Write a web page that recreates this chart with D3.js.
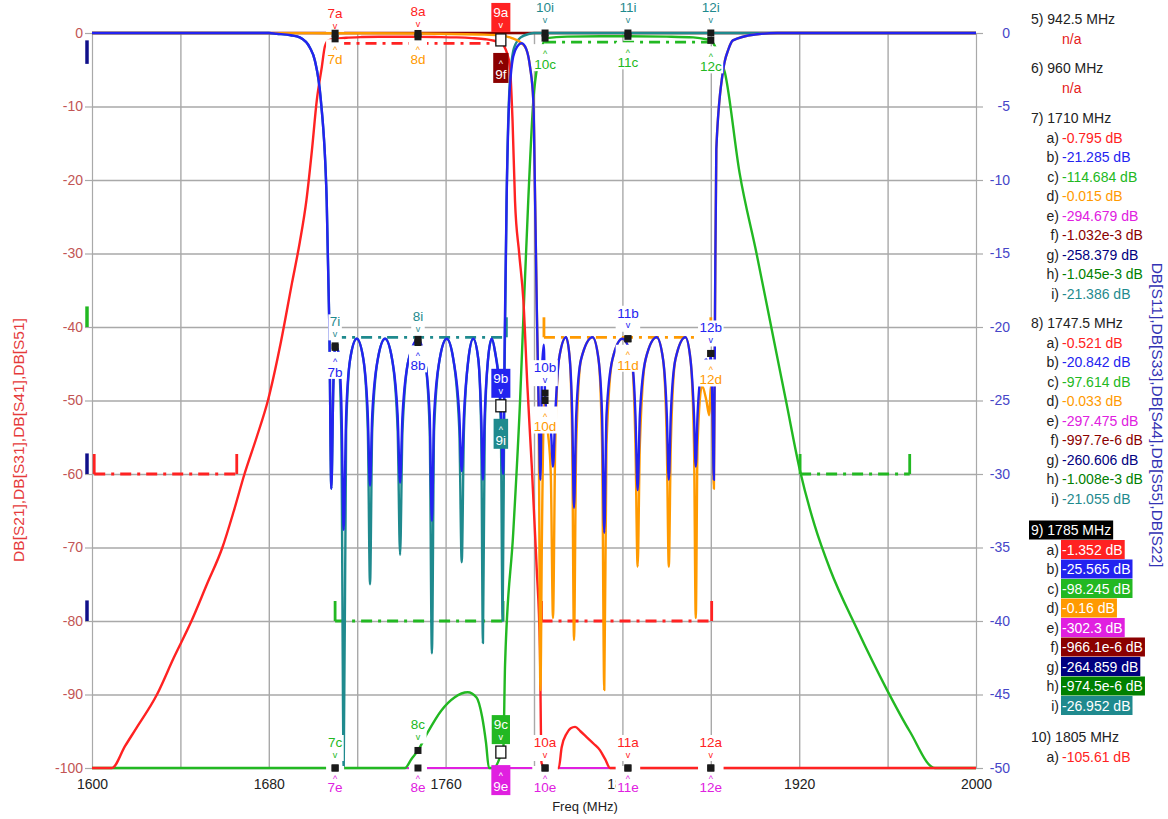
<!DOCTYPE html>
<html><head><meta charset="utf-8">
<script src="https://cdn.jsdelivr.net/npm/d3@7"></script>
<style>body{margin:0;background:#fff;overflow:hidden}svg{display:block;font-family:"Liberation Sans",Arial,sans-serif}</style>
</head><body><svg id="c" width="1168" height="819"></svg>
<script>
// ---------- data ----------
const freqTicks=[1600,1680,1760,1840,1920,2000];
const freqGrid=[1640,1680,1720,1760,1800,1840,1880,1920,1960];
const leftTicks=[0,-10,-20,-30,-40,-50,-60,-70,-80,-90,-100];
const rightTicks=[0,-5,-10,-15,-20,-25,-30,-35,-40,-45,-50];

const traceA=[[1600,-100],[1609,-100],[1615,-97],[1620,-94.6],[1629.4,-90],[1637,-85],[1645,-80],[1652,-75],[1659,-70],[1664.2,-65],[1669,-60],[1674.5,-55],[1679.6,-50],[1685.5,-42],[1690.5,-34],[1694,-28.5],[1697,-22.8],[1699.5,-16],[1701.7,-9.2],[1704,-4.6],[1705.4,-1.8],[1707,-1.0],[1710,-0.795],[1715,-0.65],[1722,-0.55],[1730,-0.5],[1740,-0.5],[1747.5,-0.521],[1755,-0.55],[1765,-0.6],[1772,-0.7],[1778,-0.85],[1782,-1.05],[1785,-1.352],[1787,-2.1],[1789.1,-4.6],[1790.3,-12],[1791.4,-22.8],[1793.3,-30],[1795.2,-36.4],[1797,-48],[1799,-59],[1801.2,-72.7],[1802.7,-84],[1803.4,-99.3],[1805,-105.61],[1808,-108],[1810.5,-103],[1811.2,-100],[1812.5,-97.2],[1814.8,-95.3],[1816.6,-94.6],[1818.6,-94.4],[1821,-95],[1823.8,-95.8],[1827,-96.7],[1829.9,-97.6],[1832.2,-98.8],[1834.4,-100],[2000,-100]];
const traceB=[[1600,0],[1680,0],[1683.6,-0.05],[1690,-0.15],[1694,-0.3],[1698.6,-1.0],[1700.9,-1.9],[1703.5,-4.5],[1706.2,-11.4],[1707.4,-20],[1708.3,-31],[1709.2,-24],[1710,-21.285],[1711.3,-21.6],[1712.8,-25],[1713.9,-33.8],[1715,-26],[1716.8,-22.2],[1719.8,-20.8],[1722.8,-22.2],[1724.8,-26],[1725.8,-30.8],[1726.8,-26],[1729.3,-22.2],[1732.6,-20.8],[1735.8,-22.2],[1738.3,-26],[1739.4,-30.6],[1740.5,-26],[1743.3,-22.2],[1747.5,-20.842],[1750.6,-22.2],[1752.8,-26],[1753.8,-33.2],[1754.8,-26],[1757.3,-22.2],[1760.5,-20.8],[1763.5,-22.2],[1766.2,-26],[1767.3,-29.8],[1768.3,-26],[1770.3,-22.2],[1772.5,-20.8],[1774.8,-22.2],[1776.1,-26],[1776.9,-30.4],[1777.7,-26],[1779.2,-22.2],[1780.9,-20.8],[1782.5,-21.8],[1784,-23.5],[1785,-25.565],[1786,-30],[1786.8,-20],[1787.6,-11.4],[1788.8,-4.5],[1790.6,-1.6],[1792.5,-0.9],[1794.4,-0.7],[1796.5,-1.1],[1798.2,-2.3],[1799.7,-4.6],[1800.5,-11.4],[1801.3,-19],[1802.2,-26],[1802.9,-30.4],[1803.6,-23],[1804.4,-21.2],[1805,-24.5],[1806.2,-26.5],[1807.6,-27],[1808.6,-29.5],[1809.6,-26],[1811.3,-22.2],[1814.5,-20.7],[1816.2,-22.2],[1817.3,-26],[1818.1,-32.3],[1819.1,-26],[1821.3,-22.2],[1826.5,-20.7],[1829.2,-22.2],[1830.8,-26],[1831.8,-34],[1832.8,-26],[1835.5,-22.2],[1840,-20.8],[1844.2,-22.2],[1845.9,-26],[1846.9,-31.1],[1847.9,-26],[1850.5,-22.2],[1855.5,-20.7],[1858.4,-22.2],[1860.1,-26],[1861,-30.4],[1861.9,-26],[1864,-22.2],[1868.5,-20.7],[1870.8,-22.2],[1872.4,-26],[1873.2,-29.5],[1874,-26],[1876,-22.8],[1878,-22.2],[1879.3,-23],[1880,-21.8],[1880.8,-26],[1881.4,-30.4],[1881.9,-19],[1882.5,-7.9],[1885.4,-2.7],[1888,-1.1],[1890,-0.5],[1900,-0.1],[1910,0],[2000,0]];
const traceC=[[1600,-100],[1741.6,-100],[1744.5,-98.8],[1747.5,-97.614],[1752,-95.1],[1758,-92.2],[1764,-90.4],[1770,-89.7],[1774,-90.4],[1776.5,-93],[1778.3,-96.6],[1779.6,-100],[1782,-102],[1785,-98.245],[1786.1,-97.5],[1786.9,-86],[1790.6,-68],[1793.7,-50],[1795.2,-38.7],[1797.4,-22.8],[1799.7,-9.2],[1802,-3.7],[1804.2,-1.4],[1806,-0.7],[1815,-0.5],[1830,-0.45],[1842.5,-0.45],[1860,-0.5],[1872,-0.6],[1878,-0.85],[1880,-1.0],[1883,-2.5],[1886.4,-5.4],[1893,-19],[1900.7,-30],[1908,-41],[1914,-50],[1920.4,-59.6],[1927,-67],[1934,-73],[1946,-81],[1959.6,-89.3],[1970,-95],[1981.4,-100],[2000,-100]];
const traceD=[[1600,0],[1700,-0.01],[1710,-0.015],[1747.5,-0.033],[1775,-0.1],[1785,-0.16],[1790,-0.35],[1794.4,-0.7],[1796.5,-1.1],[1798.2,-2.3],[1799.7,-4.6],[1800.5,-11.4],[1801.3,-19],[1802.2,-28],[1802.9,-44.7],[1803.6,-34],[1804.4,-26],[1805,-25],[1806.2,-27],[1807.6,-30],[1808.6,-39.8],[1809.6,-28],[1811.3,-22.2],[1814.5,-20.7],[1816.2,-22.2],[1817.3,-28],[1818.1,-41.3],[1819.1,-28],[1821.3,-22.2],[1826.5,-20.7],[1829.2,-22.2],[1830.8,-28],[1831.8,-44.7],[1832.8,-28],[1835.5,-22.2],[1840,-20.8],[1844.2,-22.2],[1845.9,-28],[1846.9,-36.3],[1847.9,-28],[1850.5,-22.2],[1855.5,-20.7],[1858.4,-22.2],[1860.1,-28],[1861,-36.3],[1861.9,-28],[1864,-22.2],[1868.5,-20.7],[1870.8,-22.2],[1872.4,-28],[1873.2,-39.8],[1874,-28],[1876,-24],[1878,-25],[1879.3,-26],[1880,-24],[1880.8,-27],[1881.4,-31],[1881.9,-19],[1882.5,-7.9],[1885.4,-2.7],[1888,-1.1],[1890,-0.5],[1900,-0.1],[1910,0],[2000,0]];
const traceE=[[1600,-296],[1710,-294.679],[1747.5,-297.475],[1785,-302.3],[1850,-300],[2000,-298]];
const traceF=[[1600,-0.001],[1710,-0.001032],[1747.5,-0.0009977],[1785,-0.0009661],[2000,-0.001]];
const traceG=[[1600,-256],[1710,-258.379],[1747.5,-260.606],[1785,-264.859],[2000,-266]];
const traceH=[[1600,-0.001],[1710,-0.001045],[1747.5,-0.001008],[1785,-0.0009745],[2000,-0.001]];
const traceI=[[1600,0],[1680,0],[1683.6,-0.05],[1690,-0.15],[1694,-0.3],[1698.6,-1.0],[1700.9,-1.9],[1703.5,-4.5],[1706.2,-11.4],[1707.4,-20],[1708.3,-31],[1709.2,-24],[1710,-21.386],[1711.3,-21.6],[1712.8,-27],[1713.9,-52],[1715,-27],[1716.8,-22.2],[1719.8,-20.8],[1722.8,-22.2],[1724.8,-27],[1725.8,-37.5],[1726.8,-27],[1729.3,-22.2],[1732.6,-20.8],[1735.8,-22.2],[1738.3,-27],[1739.4,-35.5],[1740.5,-27],[1743.3,-22.2],[1747.5,-21.055],[1750.6,-22.2],[1752.8,-27],[1753.8,-42.2],[1754.8,-27],[1757.3,-22.2],[1760.5,-20.8],[1763.5,-22.2],[1766.2,-27],[1767.3,-36],[1768.3,-27],[1770.3,-22.2],[1772.5,-20.8],[1774.8,-22.2],[1776.1,-27],[1776.9,-41.5],[1777.7,-27],[1779.2,-22.2],[1780.9,-20.8],[1782.5,-21.8],[1784,-23.5],[1785,-26.952],[1785.8,-40],[1786.6,-24],[1787.6,-11.4],[1789,-3.5],[1791,-1],[1794,-0.3],[1798,-0.05],[1800,0],[2000,0]];

// spec limit lines: [f1, f2, level, series, end ticks]
const specLines=[[1601,1665.5,-60,"a",1],[1712,1785,-1.4,"a",0],[1710,1786,-80,"c",1],[1710,1787.5,-20.7,"i",1],[1804.5,1880,-20.7,"d",1],[1805,1880,-1.25,"c",0],[1803.4,1880.4,-80,"a",1],[1920.4,1970,-60,"c",1]];
// left-axis limit flags: [from dB, to dB, series]
const axisFlags=[[-1,-4.2,"g"],[-37.2,-40,"c"],[-57.2,-60,"g"],[-77.2,-80,"g"]];

// markers: [freq, upper label, series, value, lower label, series, value]
const markerPairs=[
 [1710,"7a","a",-0.795,"7d","d",-0.015],[1747.5,"8a","a",-0.521,"8d","d",-0.033],[1785,"9a","a",-1.352,"9f","f",-0.001],
 [1805,"10i","i",0,"10c","c",-0.7],[1842.5,"11i","i",0,"11c","c",-0.45],[1880,"12i","i",0,"12c","c",-1.0],
 [1710,"7i","i",-21.386,"7b","b",-21.285],[1747.5,"8i","i",-21.055,"8b","b",-20.842],[1785,"9b","b",-25.565,"9i","i",-26.952],
 [1805,"10b","b",-24.5,"10d","d",-25],[1842.5,"11b","b",-20.8,"11d","d",-20.8],[1880,"12b","b",-21.8,"12d","d",-21.8],
 [1710,"7c","c",-114.684,"7e","e",-294.679],[1747.5,"8c","c",-97.614,"8e","e",-297.475],[1785,"9c","c",-98.245,"9e","e",-302.3],
 [1805,"10a","a",-105.61,"10e","e",-300],[1842.5,"11a","a",-100,"11e","e",-300],[1880,"12a","a",-100,"12e","e",-300]];
const activeMarker=9;

const panelHeaders=["5) 942.5 MHz","6) 960 MHz","7) 1710 MHz","8) 1747.5 MHz","9) 1785 MHz","10) 1805 MHz"];
const panelLetters=["a","b","c","d","e","f","g","h","i"];
const panel7=["-0.795","-21.285","-114.684","-0.015","-294.679","-1.032e-3","-258.379","-1.045e-3","-21.386"];
const panel8=["-0.521","-20.842","-97.614","-0.033","-297.475","-997.7e-6","-260.606","-1.008e-3","-21.055"];
const panel9=["-1.352","-25.565","-98.245","-0.16","-302.3","-966.1e-6","-264.859","-974.5e-6","-26.952"];
const panel10=["-105.61"];

// ---------- drawing ----------
const col={a:"#ff2222",b:"#2323f0",c:"#22b822",d:"#ff9a00",e:"#e020e0",f:"#8b0000",g:"#000080",h:"#008000",i:"#1f8a8e"};
const rightSeries=new Set(["b","d","i"]);
const svg=d3.select("#c");
const x=d3.scaleLinear().domain([1600,2000]).range([92,976]);
const yL=d3.scaleLinear().domain([-100,0]).range([768,33]).clamp(true);
const yR=d3.scaleLinear().domain([-50,0]).range([768,33]).clamp(true);
const yOf=s=>rightSeries.has(s)?yR:yL;
const GRID="#a9a9a9";
const FONT="Liberation Sans, Arial, sans-serif";

// grid
const gg=svg.append("g");
gg.append("g").attr("transform","translate(0,768)")
  .call(d3.axisBottom(x).tickValues(freqGrid).tickSize(-735).tickFormat(""))
  .call(g=>g.select(".domain").remove());
gg.append("g").attr("transform","translate(92,0)")
  .call(d3.axisLeft(yL).tickValues(leftTicks).tickSize(-884).tickFormat(""))
  .call(g=>g.select(".domain").remove());
gg.selectAll("line").attr("stroke",GRID).attr("stroke-width",1.4);

// axes
const axL=svg.append("g").attr("transform","translate(92,0)")
  .call(d3.axisLeft(yL).tickValues(leftTicks).tickSize(7).tickSizeOuter(0).tickPadding(2).tickFormat(d=>String(d)));
axL.selectAll("text").attr("fill","#c25555").attr("font-size",14).attr("font-family",FONT);
const axR=svg.append("g").attr("transform","translate(976,0)")
  .call(d3.axisRight(yR).tickValues(rightTicks).tickSize(7).tickSizeOuter(0).tickFormat(d=>String(d)));
axR.selectAll("text").attr("fill","#4646c8").attr("font-size",14).attr("text-anchor","end").attr("x",34).attr("font-family",FONT);
const axB=svg.append("g").attr("transform","translate(0,768)")
  .call(d3.axisBottom(x).tickValues(freqTicks).tickSize(0).tickSizeOuter(0).tickPadding(11).tickFormat(d=>String(d)));
axB.select(".domain").remove();
axB.selectAll("text").attr("fill","#222").attr("font-size",14).attr("font-family",FONT);
[axL,axR].forEach(a=>{a.selectAll("line,path").attr("stroke",GRID).attr("stroke-width",1.2);});

// axis flags
svg.selectAll(".flag").data(axisFlags).join("line")
  .attr("x1",87).attr("x2",87).attr("y1",d=>yL(d[0])).attr("y2",d=>yL(d[1]))
  .attr("stroke",d=>d[2]==="g"?"#10108a":col[d[2]]).attr("stroke-width",3.5);

// clip
svg.append("clipPath").attr("id","pc").append("rect").attr("x",92).attr("y",27).attr("width",885).attr("height",745);
const plot=svg.append("g").attr("clip-path","url(#pc)");

// spec lines
specLines.forEach(([f1,f2,v,s,t])=>{
  const ys=yOf(s), yy=ys(v);
  plot.append("line").attr("x1",x(f1)).attr("x2",x(f2)).attr("y1",yy).attr("y2",yy)
    .attr("stroke",col[s]).attr("stroke-width",2.8).attr("stroke-dasharray","11,6,3,6");
  if(t){[f1,f2].forEach(f=>plot.append("line").attr("x1",x(f)).attr("x2",x(f)).attr("y1",yy).attr("y2",yy-20)
    .attr("stroke",col[s]).attr("stroke-width",2.8));}
});

// traces
const widths={g:1,e:2,h:1.4};
const traces=[["g",traceG],["e",traceE],["h",traceH],["f",traceF],["i",traceI],["c",traceC],["a",traceA],["d",traceD],["b",traceB]];
traces.forEach(([s,data])=>{
  const ys=yOf(s);
  plot.append("path").datum(data)
    .attr("d",d3.line().x(d=>x(d[0])).y(d=>ys(d[1])).curve(d3.curveMonotoneX))
    .attr("fill","none").attr("stroke",col[s]).attr("stroke-width",widths[s]||2.4)
    .attr("stroke-linejoin","round");
});

// marker labels
const lbl=svg.append("g").attr("font-family",FONT);
function label(txt,s,cx,cy,dir,active){
  const g=lbl.append("g");
  let tY,aY,r0,r1;
  if(active){
    if(dir==="up"){r0=cy-40;r1=cy-11;tY=cy-31;aY=cy-18;}
    else{r0=cy+10;r1=cy+40;aY=cy+18;tY=cy+31;}
  }else{
    if(dir==="up"){r0=cy-33;r1=cy-7;tY=cy-26;aY=cy-13;}
    else if(cy>700){r0=cy-2;r1=cy+27;aY=cy+8;tY=cy+19;}
    else{r0=cy+6;r1=cy+33;aY=cy+13;tY=cy+26;}
  }
  const rect=g.append("rect");
  const t=g.append("text").attr("x",cx).attr("y",tY).attr("dy","0.36em").attr("text-anchor","middle")
    .attr("font-size",13.5).attr("fill",active?"#fff":col[s]).text(txt);
  g.append("text").attr("x",cx).attr("y",aY).attr("dy",dir==="up"?"0.3em":"0.7em").attr("text-anchor","middle")
    .attr("font-size",9).attr("fill",active?"#fff":col[s]).text(dir==="up"?"v":"^");
  const w=t.node().getComputedTextLength()+(active?4:3);
  rect.attr("x",cx-w/2).attr("width",w).attr("y",r0).attr("height",r1-r0).attr("fill",active?col[s]:"#fff");
}
const glyphs=[];
markerPairs.forEach(([f,uT,uS,uV,dT,dS,dV])=>{
  const cx=x(f);
  const active=parseInt(uT)===activeMarker;
  const uy=yOf(uS)(uV), dy=yOf(dS)(dV);
  if(active){
    label(uT,uS,cx,uy,"up",true);
    label(dT,dS,cx,uy,"dn",true);
    glyphs.push([cx,uy-3,true]);
  }else{
    label(uT,uS,cx,uy,"up",false);
    label(dT,dS,cx,dy,"dn",false);
    glyphs.push([cx,uy,false],[cx,dy,false]);
  }
});
glyphs.forEach(([gx,gy,act])=>{
  if(act) lbl.append("rect").attr("x",gx-5).attr("y",gy-6).attr("width",10).attr("height",12)
      .attr("fill","#fff").attr("stroke","#111").attr("stroke-width",1.3);
  else lbl.append("rect").attr("x",gx-3.5).attr("y",gy-3.5).attr("width",7).attr("height",7).attr("fill","#1a1a1a");
});

// titles
svg.append("text").attr("transform","translate(24,440) rotate(-90)").attr("text-anchor","middle")
  .attr("font-size",15.5).attr("fill","#e53a3a").text("DB[S21],DB[S31],DB[S41],DB[S51]");
svg.append("text").attr("transform","translate(1152,415) rotate(90)").attr("text-anchor","middle")
  .attr("font-size",15.5).attr("fill","#3232b4").text("DB[S11],DB[S33],DB[S44],DB[S55],DB[S22]");
svg.append("text").attr("x",585).attr("y",811).attr("text-anchor","middle").attr("font-size",13).attr("fill","#222").text("Freq (MHz)");

// panel
const pg=svg.append("g").attr("font-family",FONT).attr("font-size",14);
const headerY=[19,68,118,323,530,737];
const step=19.5;
const sections=[["n/a"],["n/a"],panel7,panel8,panel9,panel10];
sections.forEach((vals,si)=>{
  const hy=headerY[si];
  const active=si===4;
  const ht=pg.append("text").attr("x",1031).attr("y",hy).attr("dy","0.36em").attr("fill",active?"#fff":"#222").text(panelHeaders[si]);
  if(active){
    const w=ht.node().getComputedTextLength();
    pg.insert("rect","text").attr("x",1029).attr("y",hy-9.5).attr("width",w+4).attr("height",19).attr("fill","#000");
  }
  vals.forEach((v,k)=>{
    const yy=hy+step*(k+1);
    if(v==="n/a"){
      pg.append("text").attr("x",1062).attr("y",yy).attr("dy","0.36em").attr("fill","#e52020").text("n/a");
      return;
    }
    const s=panelLetters[k];
    pg.append("text").attr("x",1059).attr("y",yy).attr("dy","0.36em").attr("text-anchor","end").attr("fill","#222").text(s+")");
    const g=pg.append("g");
    const t=g.append("text").attr("x",1062).attr("y",yy).attr("dy","0.36em").attr("fill",active?"#fff":col[s]).text(v+" dB");
    if(active){
      const w=t.node().getComputedTextLength();
      g.insert("rect","text").attr("x",1061).attr("y",yy-9.5).attr("width",w+3).attr("height",19).attr("fill",col[s]);
    }
  });
});
</script></body></html>
